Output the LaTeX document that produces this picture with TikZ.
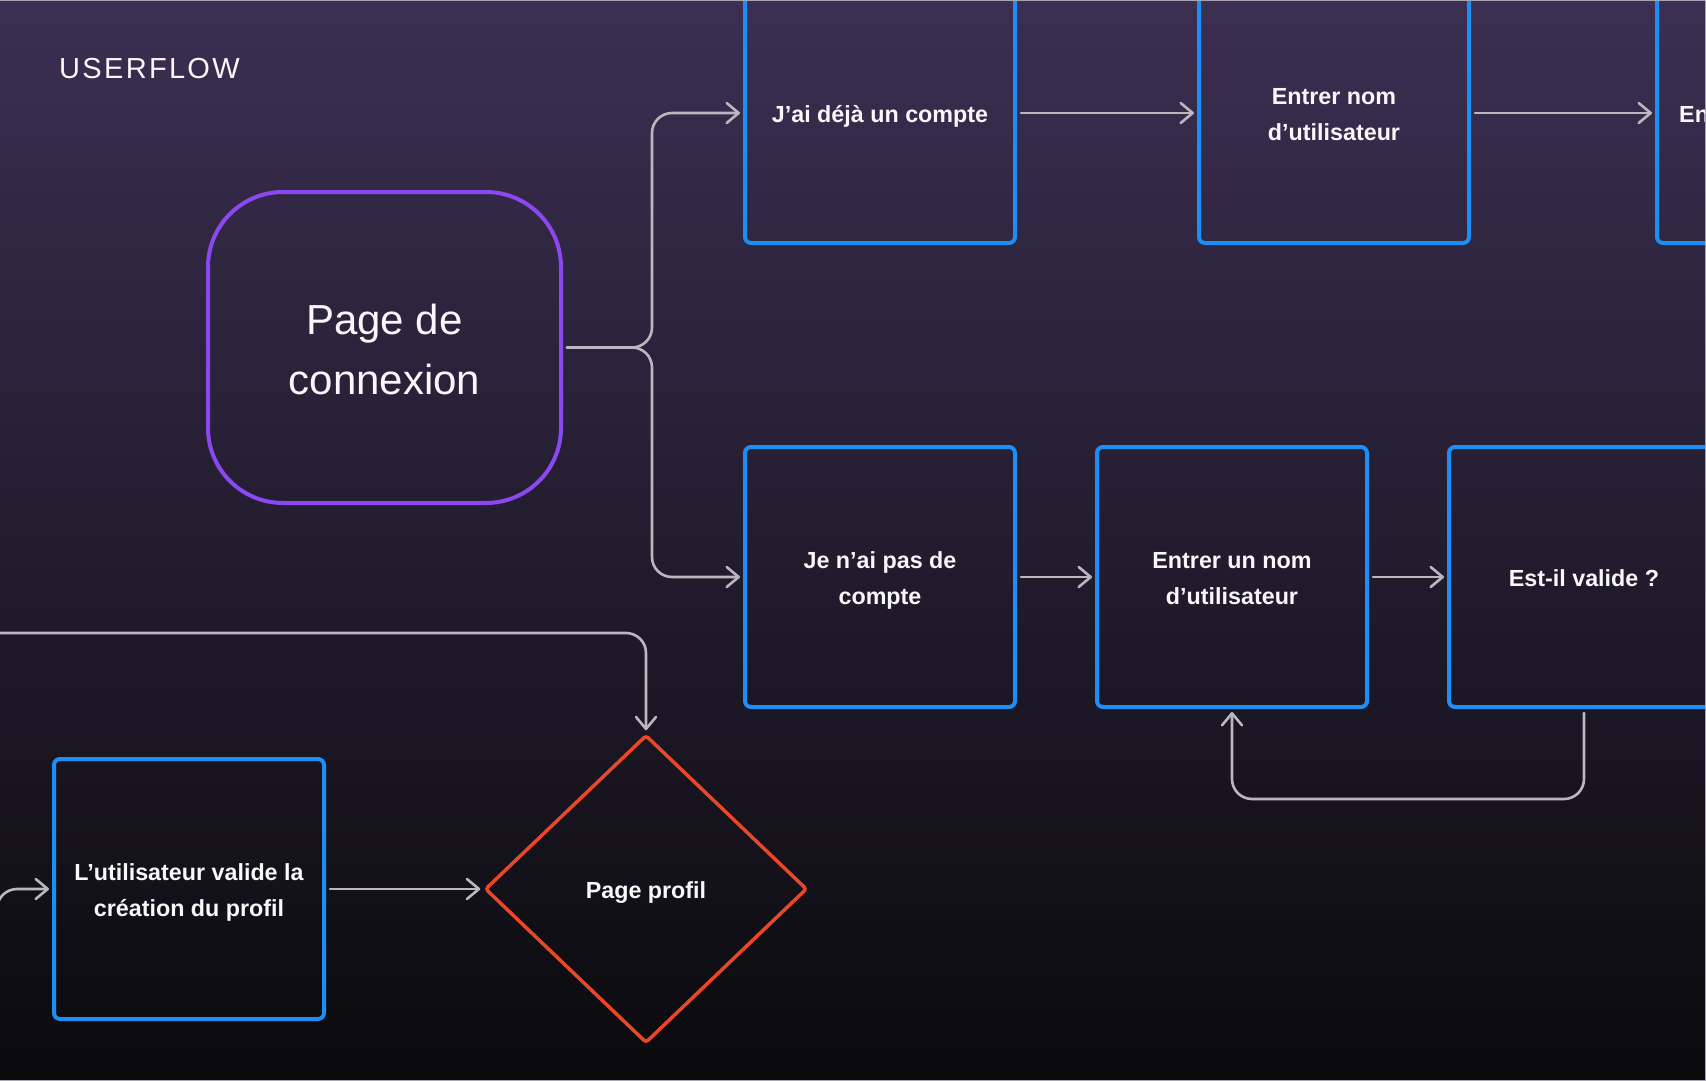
\documentclass[tikz,border=0pt]{standalone}
\usepackage{fontspec}
\setmainfont{Liberation Sans}
\usetikzlibrary{arrows.meta,shapes.geometric}
\definecolor{bgtop}{RGB}{59,47,82}
\definecolor{bgmid}{RGB}{36,30,47}
\definecolor{bgbot}{RGB}{10,10,12}
\definecolor{boxblue}{RGB}{28,142,245}
\definecolor{boxpurple}{RGB}{140,72,240}
\definecolor{boxred}{RGB}{234,70,40}
\definecolor{linkgray}{RGB}{186,183,190}
\definecolor{framegray}{RGB}{170,165,180}
\definecolor{txt}{RGB}{248,248,250}
\newcommand{\lft}{\rule{0pt}{23pt}}
\begin{document}
\begin{tikzpicture}[x=1pt,y=-1pt,
  stepbox/.style={draw=boxblue, line width=4pt, rounded corners=6pt,
    minimum width=270pt, minimum height=260pt, inner sep=0pt, text=txt,
    align=center, font=\fontsize{23.3}{36}\selectfont\bfseries},
  startbox/.style={draw=boxpurple, line width=4pt, rounded corners=75pt,
    minimum width=353pt, minimum height=311pt, inner sep=0pt, text=txt,
    align=center, font=\fontsize{42}{60}\selectfont},
  decbox/.style={diamond, draw=boxred, line width=3.5pt, rounded corners=3pt,
    minimum width=322pt, minimum height=308pt, inner sep=0pt, text=txt,
    font=\fontsize{23.3}{27}\selectfont\bfseries},
  link/.style={draw=linkgray, line width=2.6pt, line cap=round,
    -{Straight Barb[length=12pt,width=20pt,round]},
    shorten <=4pt, shorten >=3pt, rounded corners=20pt},
  titletext/.style={text=txt, anchor=base west, inner sep=0pt,
    font=\fontsize{29}{29}\selectfont\addfontfeature{LetterSpace=8}},
  cuttext/.style={text=txt, anchor=base west, inner sep=0pt,
    font=\fontsize{23.3}{36}\selectfont\bfseries},
]
\useasboundingbox (0,0) rectangle (1706,1081);
\begin{scope}
\clip (0,0) rectangle (1706,1081);
\shade[top color=bgtop, middle color=bgmid, bottom color=bgbot] (0,0) rectangle (1706,1081);

\node[titletext] (title) at (59,79) {USERFLOW};

\node[startbox] (login) at (384.5,347.5) {\rule{0pt}{34pt}Page de\\connexion};
\node[stepbox] (have) at (880,113) {\lft J’ai déjà un compte};
\node[stepbox] (name1) at (1334,113) {\rule{0pt}{18.5pt}Entrer nom\\d’utilisateur};
\node[stepbox] (next1) at (1792,113) {};
\node[cuttext] (next1t) at (1679,122) {En};
\node[stepbox] (nohave) at (880,577) {\lft Je n’ai pas de\\compte};
\node[stepbox] (name2) at (1232,577) {\rule{0pt}{18.5pt}Entrer un nom\\d’utilisateur};
\node[stepbox] (valid) at (1584,577) {\rule{0pt}{19pt}Est-il valide ?};
\node[stepbox] (confirm) at (189,889) {\lft L’utilisateur valide la\\création du profil};
\node[decbox] (profile) at (646,889) {\lft Page profil};

\coordinate (split) at (652,347.5);
\coordinate (loopcorner) at (1584,799);
\coordinate (fromleft) at (-10,633);
\coordinate (intoconfirm) at (-3,1000);

\draw[link] (login.east) -- (split) |- (have.west);
\draw[link] (login.east) -- (split) |- (nohave.west);
\draw[link] (have.east) -- (name1.west);
\draw[link] (name1.east) -- (next1.west);
\draw[link] (nohave.east) -- (name2.west);
\draw[link] (name2.east) -- (valid.west);
\draw[link] (valid.south) -- (loopcorner) -| (name2.south);
\draw[link] (confirm.east) -- (profile.west);
\draw[link] (fromleft) -| (profile.north);
\draw[link] (intoconfirm) |- (confirm.west);

\draw[framegray, line width=2.5pt] (0,0) -- (1706,0) -- (1706,1081) -- (0,1081);
\end{scope}
\end{tikzpicture}
\end{document}
